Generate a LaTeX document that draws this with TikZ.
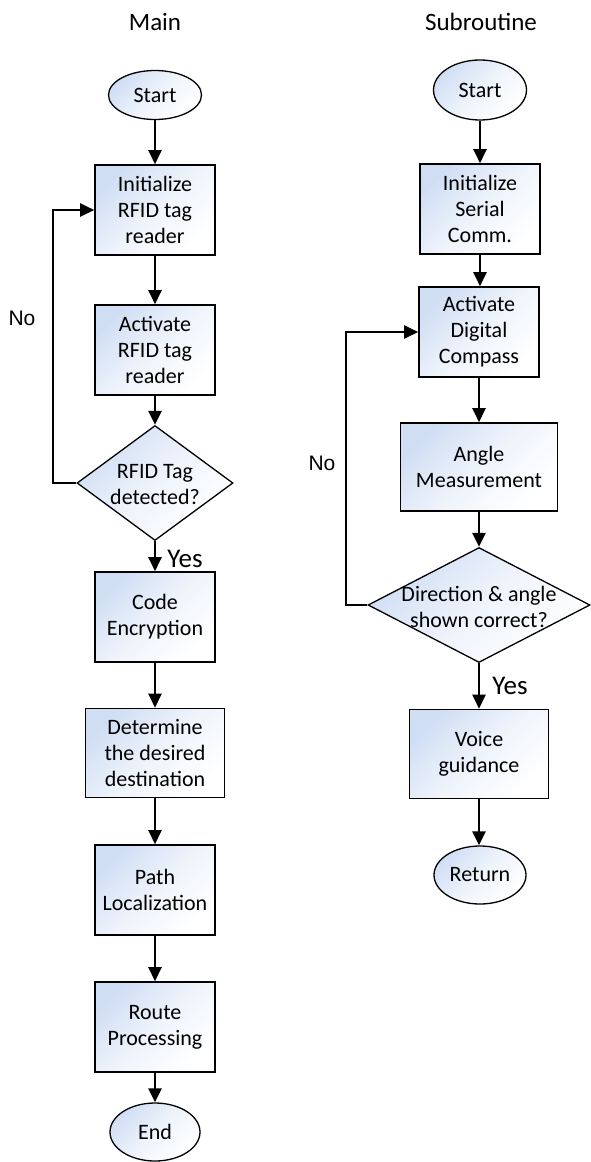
\documentclass[tikz,border=0pt]{standalone}
\usepackage{fontspec}
\setmainfont{Carlito}
\newfontfamily\arialfont{Liberation Sans}
\usetikzlibrary{shapes.geometric,arrows.meta}
\definecolor{fillblue}{RGB}{208,222,244}
\begin{document}
\begin{tikzpicture}[x=1pt,y=-1pt,
  base/.style={draw=black, top color=fillblue, bottom color=white, middle color=fillblue!35!white, shading angle=45, inner sep=0pt, align=center, font=\fontsize{22}{26}\selectfont},
  box/.style={base, rectangle, line width=1.6pt, minimum width=120pt, minimum height=90pt},
  term/.style={base, ellipse, line width=1.3pt, minimum width=93pt, minimum height=48pt},
  dec/.style={base, diamond, line width=1.3pt},
  lbl/.style={inner sep=0pt, align=center, font=\fontsize{22}{26}\selectfont},
  yeslbl/.style={inner sep=0pt, font=\fontsize{27}{30}\selectfont},
  nolbl/.style={inner sep=0pt, font=\arialfont\fontsize{21}{24}\selectfont},
  ttl/.style={inner sep=0pt, font=\fontsize{25}{30}\selectfont},
  arr/.style={line width=2.4pt, -{Triangle[length=14pt,width=13pt]}}
]
\useasboundingbox (0,0) rectangle (591,1162);

% ---------- Main ----------
\node[ttl] (tmain) at (155,22) {Main};
\node[term, minimum height=49pt] (s1) at (155,95) {Start};
\node[box] (init1) at (155,210) {Initialize\\RFID tag\\reader};
\node[box] (act1) at (155,350) {Activate\\RFID tag\\reader};
\node[dec, minimum width=156pt, minimum height=115pt] (d1) at (155,483) {};
\node[lbl] (d1t) at (155,485) {RFID Tag\\detected?};
\node[box] (code) at (155,617) {Code\\Encryption};
\node[box, minimum width=139pt, minimum height=89pt] (det) at (155,753) {Determine\\the desired\\destination};
\node[box] (path) at (155,890) {Path\\Localization};
\node[box] (route) at (155,1027) {Route\\Processing};
\node[term, minimum width=90pt, minimum height=58pt] (e1) at (155,1132) {End};

\draw[arr] (s1) -- (init1);
\draw[arr] (init1) -- (act1);
\draw[arr] (act1) -- (d1.north);
\draw[arr] (d1.south) -- (code);
\draw[arr] (code) -- (det);
\draw[arr] (det) -- (path);
\draw[arr] (path) -- (route);
\draw[arr] (route) -- (e1);
\coordinate (lp1) at (53,483);
\draw[arr] (d1.west) -- (lp1) |- (init1.west);
\node[nolbl] (no1) at (22,318) {No};
\node[yeslbl] (yes1) at (185,559) {Yes};

% ---------- Subroutine ----------
\node[ttl] (tsub) at (481,22) {Subroutine};
\node[term, minimum height=60pt] (s2) at (480,90) {Start};
\node[box] (init2) at (480,209) {Initialize\\Serial\\Comm.};
\node[box] (act2) at (479,332) {Activate\\Digital\\Compass};
\node[box, minimum width=157pt, minimum height=88pt] (ang) at (479,467) {Angle\\Measurement};
\node[dec, minimum width=222pt, minimum height=115pt] (d2) at (479,605) {};
\node[lbl] (d2t) at (479,607) {Direction \& angle\\shown correct?};
\node[box, minimum width=139pt, minimum height=89pt] (voice) at (479,754) {Voice\\guidance};
\node[term, minimum width=92pt, minimum height=58pt] (ret) at (480,875) {Return};

\draw[arr] (s2) -- (s2 |- init2.north);
\draw[arr] (init2) -- (init2 |- act2.north);
\draw[arr] (act2) -- (ang);
\draw[arr] (ang) -- (d2.north);
\draw[arr] (d2.south) -- (voice);
\draw[arr] (voice) -- (voice |- ret.north);
\coordinate (lp2) at (346,605);
\draw[arr] (d2.west) -- (lp2) |- (act2.west);
\node[nolbl] (no2) at (322,463) {No};
\node[yeslbl] (yes2) at (510,686) {Yes};
\end{tikzpicture}
\end{document}
